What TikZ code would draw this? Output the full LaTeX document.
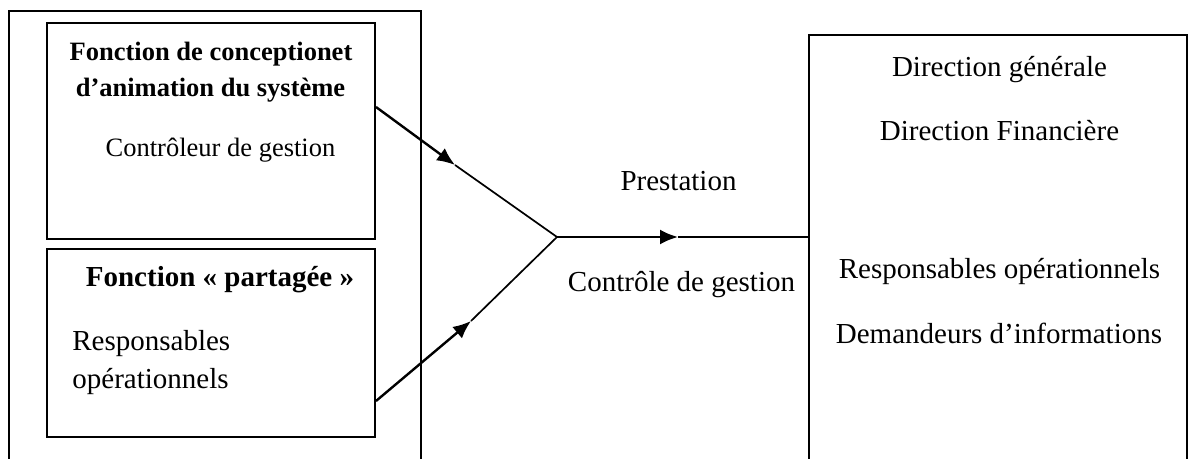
\documentclass[tikz,border=0pt]{standalone}
\usepackage{fontspec}
\setmainfont{Liberation Serif}
\usetikzlibrary{arrows.meta}
\begin{document}
\begin{tikzpicture}[x=0.5pt,y=-0.5pt,
  frame/.style={draw, line width=1pt, rectangle, inner sep=0pt},
  big/.style={font=\fontsize{14.5}{17}\selectfont, inner sep=0pt},
  small/.style={font=\fontsize{13.25}{16}\selectfont, inner sep=0pt},
  feed/.style={line width=1.2pt, -{Latex[length=9pt,width=7.5pt]}},
  link/.style={line width=0.85pt}]
\clip (0,0) rectangle (1188,459);
\useasboundingbox (0,0) rectangle (1188,459);

% outer frame of the left part (open at the bottom of the page)
\draw[line width=1pt] (9,500) -- (9,11) -- (421,11) -- (421,500);

% the two function boxes
\node[frame, minimum width=164pt, minimum height=108pt] (top) at (211,131) {};
\node[frame, minimum width=164pt, minimum height=94pt] (bottom) at (211,343) {};

% receivers box
\node[frame, minimum width=189pt, minimum height=232.5pt] (right) at (998,267.5) {};

% texts of the top box
\node[small, anchor=base, font=\fontsize{13.25}{16}\selectfont\bfseries] (t1) at (211,61) {Fonction de conceptionet};
\node[small, anchor=base, font=\fontsize{13.25}{16}\selectfont\bfseries] (t2) at (210.5,97) {d’animation du système};
\node[small, anchor=base] (t3) at (220.5,157) {Contrôleur de gestion};

% texts of the bottom box
\node[big, anchor=base, font=\fontsize{14.5}{17}\selectfont\bfseries] (b1) at (220,287) {Fonction « partagée »};
\node[big, anchor=base west] (b2) at (72,350.5) {Responsables};
\node[big, anchor=base west] (b3) at (72,388) {opérationnels};

% flow labels
\node[big, anchor=base] (p) at (678.5,191) {Prestation};
\node[big, anchor=base] (cg) at (681.5,292) {Contrôle de gestion};

% texts of the receivers box
\node[big, anchor=base] (r1) at (999.5,77) {Direction générale};
\node[big, anchor=base] (r2) at (999.5,141) {Direction Financière};
\node[big, anchor=base] (r3) at (999.5,279) {Responsables opérationnels};
\node[big, anchor=base] (r4) at (999,344) {Demandeurs d’informations};

% connectors
\coordinate (s1) at (376,107);
\coordinate (m1) at (455,165);
\coordinate (s2) at (376,401);
\coordinate (m2) at (471,321);
\coordinate (j) at (557,237);
\coordinate (m3) at (678,237);

\draw[feed] (s1) -- (m1);
\draw[link] (m1) -- (j);
\draw[feed] (s2) -- (m2);
\draw[link] (m2) -- (j);
\draw[feed] (j) -- (m3);
\draw[link] (m3) -- (right.west |- j);
\end{tikzpicture}
\end{document}
